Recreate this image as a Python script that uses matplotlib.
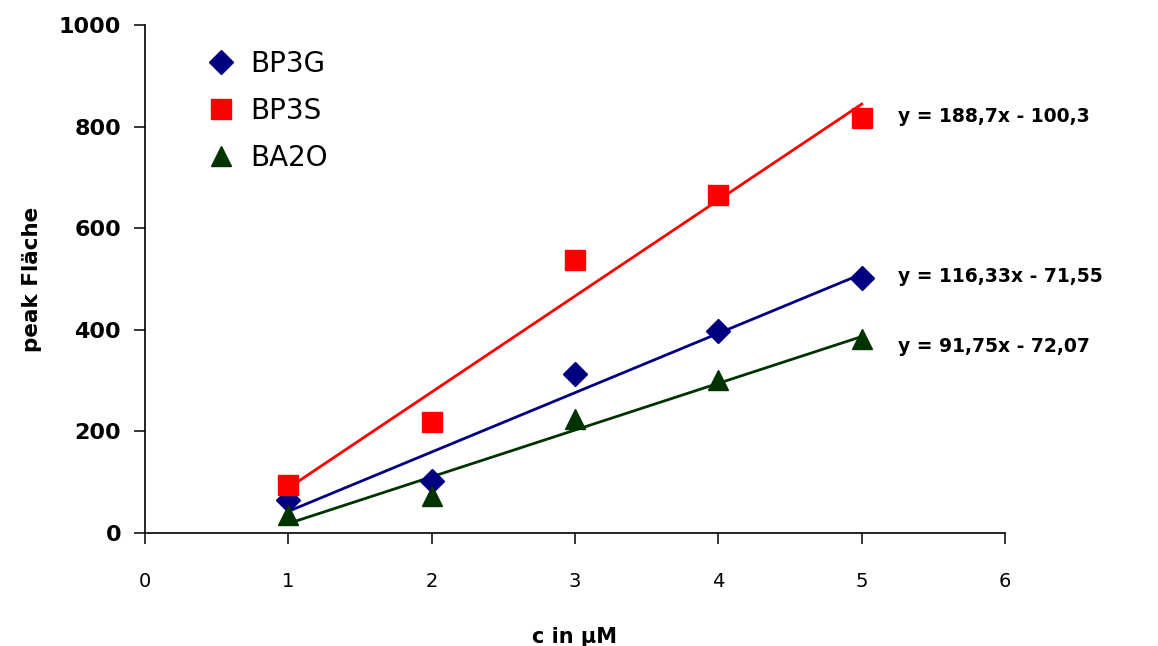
import numpy as np
import matplotlib
matplotlib.use("Agg")
import matplotlib.pyplot as plt

conc = [1, 2, 3, 4, 5]
bp3g = [65, 103, 313, 398, 502]
bp3s = [95, 218, 537, 665, 817]
ba2o = [35, 72, 224, 301, 381]

series_names = ["BP3G", "BP3S", "BA2O"]
equations = ["y = 116,33x - 71,55", "y = 188,7x - 100,3", "y = 91,75x - 72,07"]
x_ticks = [0, 1, 2, 3, 4, 5, 6]
y_ticks = [0, 200, 400, 600, 800, 1000]

colors = ["#000080", "#FF0000", "#003300"]
markers = ["D", "s", "^"]
msizes = [12, 14, 15]

fig = plt.figure(figsize=(11.58, 6.46), dpi=100)
ax = fig.add_axes([0.125, 0.175, 0.743, 0.786])

for name, ys, c, m, ms in zip(series_names, [bp3g, bp3s, ba2o], colors, markers, msizes):
    x = np.array(conc, dtype=float)
    y = np.array(ys, dtype=float)
    k, d = np.polyfit(x, y, 1)
    xl = np.array([x.min(), x.max()])
    ax.plot(xl, k * xl + d, color=c, lw=2.0, zorder=2)
    ax.plot(x, y, linestyle="none", marker=m, markersize=ms, color=c, label=name, zorder=3)

# equation labels
eq_pos = [(5.25, 505), (5.25, 820), (5.25, 368)]
for (ex, ey), eq in zip(eq_pos, equations):
    ax.text(ex, ey, eq, fontsize=13.5, fontweight="bold", va="center", ha="left")

ax.set_xlim(0, 6)
ax.set_ylim(0, 1000)
ax.set_xticks(x_ticks)
ax.set_yticks(y_ticks)
ax.spines["top"].set_visible(False)
ax.spines["right"].set_visible(False)
ax.spines["left"].set_linewidth(1.2)
ax.spines["bottom"].set_linewidth(1.2)
ax.tick_params(axis="both", direction="out", length=8, width=1.1)
ax.tick_params(axis="x", labelsize=14, pad=20)
ax.tick_params(axis="y", labelsize=16, pad=9)
for lab in ax.get_yticklabels():
    lab.set_fontweight("bold")

ax.set_xlabel("c in µM", fontsize=15, fontweight="bold", labelpad=26)
ax.set_ylabel("peak Fläche", fontsize=15.5, fontweight="bold", labelpad=12)

leg = ax.legend(loc="upper left", bbox_to_anchor=(0.044, 1.0), frameon=False,
                fontsize=20, handletextpad=0.55, labelspacing=0.68, handlelength=1.0)

fig.savefig("out.png", dpi=100)
